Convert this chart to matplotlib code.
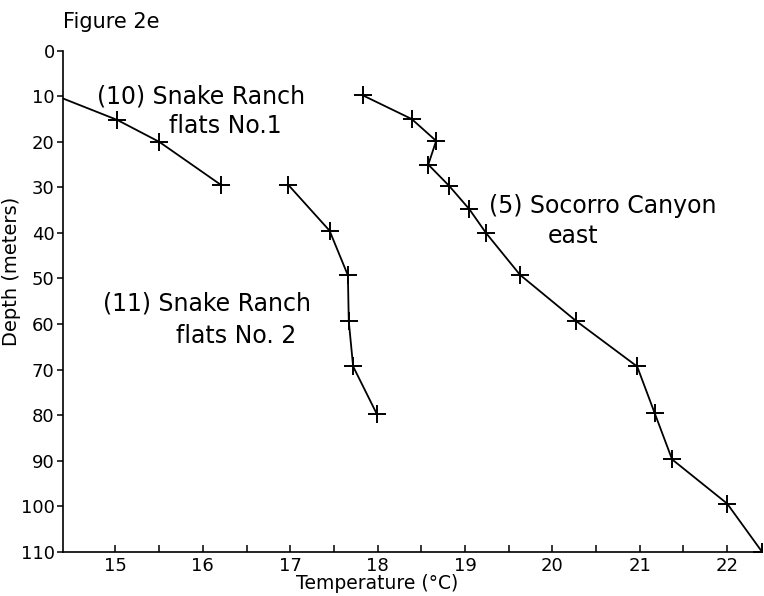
import matplotlib
matplotlib.use("Agg")
import matplotlib.pyplot as plt
from matplotlib.ticker import MultipleLocator, FixedLocator

plt.rcParams["font.family"] = ["DejaVu Sans"]

# (10) Snake Ranch flats No. 1 -- first point is where the line leaves the axis
snake1_temp = [14.4, 15.02, 15.5, 16.21]
snake1_depth = [10.5, 15.2, 20.0, 29.5]

# (11) Snake Ranch flats No. 2
snake2_temp = [16.98, 17.45, 17.66, 17.67, 17.72, 17.99]
snake2_depth = [29.5, 39.5, 49.3, 59.4, 69.3, 79.7]

# (5) Socorro Canyon east
socorro_temp = [17.83, 18.39, 18.67, 18.58, 18.82, 19.05, 19.24, 19.63,
                20.27, 20.97, 21.17, 21.37, 22.0, 22.4]
socorro_depth = [9.8, 15.0, 19.8, 25.0, 29.7, 34.8, 40.0, 49.2,
                 59.3, 69.3, 79.5, 89.7, 99.4, 110.0]

minor_ticks = [15.5, 16.5, 17.5, 18.5, 19.5, 20.5, 21.5]

fig = plt.figure(figsize=(7.64, 5.96), dpi=100)
ax = fig.add_axes([0.0825, 0.074, 0.915, 0.841])

style = dict(color="black", lw=1.3, marker="+", ms=13, mew=1.4)
ax.plot(snake1_temp, snake1_depth, markevery=[1, 2, 3], **style)
ax.plot(snake2_temp, snake2_depth, **style)
ax.plot(socorro_temp, socorro_depth, **style)

ax.set_xlim(14.4, 22.4)
ax.set_ylim(110, 0)

ax.spines["top"].set_visible(False)
ax.spines["right"].set_visible(False)
ax.spines["left"].set_linewidth(1.2)
ax.spines["bottom"].set_linewidth(1.2)

ax.xaxis.set_major_locator(MultipleLocator(1))
ax.xaxis.set_minor_locator(FixedLocator(minor_ticks))
ax.yaxis.set_major_locator(MultipleLocator(10))
ax.tick_params(axis="x", which="both", direction="in", length=5, width=1.1,
               labelsize=13, pad=4)
ax.tick_params(axis="y", direction="out", length=4, width=1.1,
               labelsize=13, pad=2)

ax.set_xlabel("Temperature (°C)", fontsize=13.5, va="center")
ax.xaxis.set_label_coords(0.45, -0.063)
ax.set_ylabel("Depth (meters)", fontsize=14)
ax.yaxis.set_label_coords(-0.06, 0.56)

txt = dict(fontsize=17, ha="left", va="baseline")
ax.text(14.79, 11.6, "(10) Snake Ranch", **txt)
ax.text(15.61, 18.0, "flats No.1", **txt)
ax.text(14.86, 57.0, "(11) Snake Ranch", **txt)
ax.text(15.69, 64.2, "flats No. 2", **txt)
ax.text(19.27, 35.7, "(5) Socorro Canyon", **txt)
ax.text(19.95, 42.3, "east", **txt)

fig.text(0.082, 0.963, "Figure 2e", fontsize=15, ha="left", va="center")

fig.savefig("out.png", dpi=100)
